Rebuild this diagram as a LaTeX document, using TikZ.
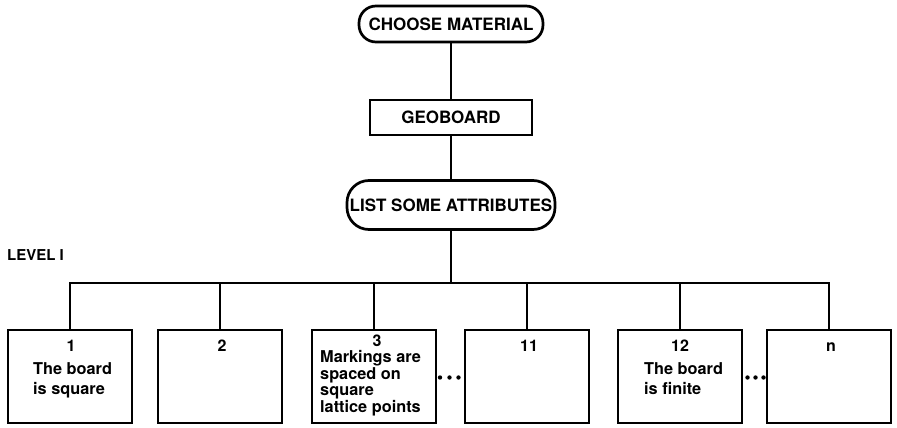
\documentclass[tikz,border=0pt]{standalone}
\usepackage{fontspec}
\setmainfont{TeX Gyre Heros}
\tikzset{
  link/.style={line width=2.9pt},
  pill/.style={draw, line width=2.7pt, inner sep=0pt, font=\fontsize{17}{19}\selectfont\bfseries},
  rectbox/.style={draw, line width=2.7pt, inner sep=0pt, font=\fontsize{17}{19}\selectfont\bfseries},
  lvl/.style={draw, line width=2.7pt, minimum width=124pt, minimum height=93pt, inner sep=0pt},
  num/.style={font=\fontsize{16}{17}\selectfont\bfseries, inner sep=0pt, anchor=base},
  txt/.style={font=\fontsize{16.3}{20}\selectfont\bfseries, align=left, inner sep=0pt, anchor=north west},
  txttight/.style={font=\fontsize{16.3}{16.7}\selectfont\bfseries, align=left, inner sep=0pt, anchor=north west},
  leveltitle/.style={font=\fontsize{15}{17}\selectfont\bfseries, inner sep=0pt, anchor=base west},
  dot/.style={fill=black}
}
\begin{document}
\begin{tikzpicture}[x=1pt,y=-1pt]
\useasboundingbox (0,0) rectangle (897,428);
% top chain
\node[pill, minimum width=184pt, minimum height=36pt, rounded corners=17pt] (choose) at (451,24) {CHOOSE MATERIAL};
\node[rectbox, minimum width=162pt, minimum height=35pt] (geo) at (451,117.5) {GEOBOARD};
\node[pill, minimum width=208pt, minimum height=49pt, rounded corners=22pt] (list) at (451,205) {LIST SOME ATTRIBUTES};
\draw[link] (choose.south) -- (geo.north);
\draw[link] (geo.south) -- (list.north);
% level title
\node[leveltitle] (level) at (7,260.5) {LEVEL I};
% level boxes
\node[lvl] (b1) at (70,376.5) {};
\node[lvl] (b2) at (220,376.5) {};
\node[lvl] (b3) at (374,376.5) {};
\node[lvl] (b11) at (527,376.5) {};
\node[lvl] (b12) at (680,376.5) {};
\node[lvl] (bn) at (829,376.5) {};
% connectors
\coordinate (bar) at (451,283);
\draw[link] (list.south) -- (bar);
\draw[link] (b1.north) -- (b1.north |- bar) -- (bn.north |- bar) -- (bn.north);
\foreach \b in {b2,b3,b11,b12}{\draw[link] (\b.north |- bar) -- (\b.north);}
% numbers
\node[num] (n1) at (71,351) {1};
\node[num] (n2) at (222,351) {2};
\node[num] (n3) at (377,346) {3};
\node[num] (n11) at (529,351) {11};
\node[num] (n12) at (680,351) {12};
\node[num] (nn) at (831,351) {n};
% texts
\node[txt] (t1) at (33,362.3) {The board\\is square};
\node[txttight] (t3) at (320,350) {Markings are\\spaced on\\square\\lattice points};
\node[txt] (t12) at (644,362.3) {The board\\is finite};
% ellipsis dots
\foreach \x in {440,449.5,458.5}{\fill[dot] (\x,377.5) circle (2.2pt);}
\foreach \x in {747.5,755.5,763.5}{\fill[dot] (\x,377.5) circle (2.2pt);}
\end{tikzpicture}
\end{document}
